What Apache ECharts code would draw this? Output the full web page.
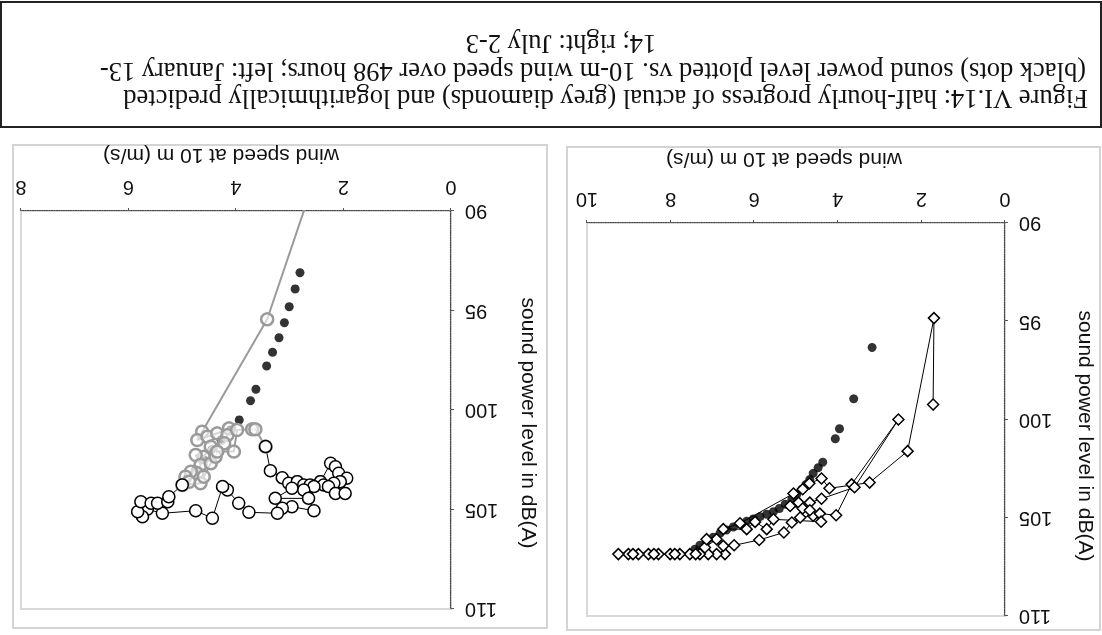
<!DOCTYPE html>
<html>
<head>
<meta charset="utf-8">
<script src="https://cdn.jsdelivr.net/npm/echarts@6/dist/echarts.min.js"></script>
<style>
    html,body{margin:0;padding:0;background:#fff;}
    /* the scanned page is upside down, so the whole figure is turned */
    #wrap{width:1102px;height:635px;transform:rotate(180deg);transform-origin:50% 50%;}
    #fig{width:1102px;height:635px;}
</style>
</head>
<body>
<div id="wrap"><div id="fig"></div></div>
<script>
    // axis ranges
    var windMaxJan = 10, windMaxJul = 8;
    var splMin = 90, splMax = 110;

    // January 13-14: actual half-hourly values [wind m/s, dB(A)] in time order
    var janActual = [
        [6.70,106.85],[6.90,106.85],[7.10,106.85],[7.30,106.85],[7.54,106.85],[7.78,106.85],[8.01,106.85],[8.29,106.85],
        [8.53,106.85],[8.77,106.85],[9.01,106.85],[9.25,106.85],[8.90,106.85],[8.40,106.85],[7.90,106.85],[7.40,106.85],
        [7.18,106.51],[6.90,106.09],[7.14,106.09],[6.74,106.43],[6.48,106.40],[5.88,106.13],[5.29,105.75],[5.10,105.24],
        [4.90,104.99],[4.59,104.90],[4.43,104.79],[4.04,104.87],[3.67,103.30],[2.55,100.00],[3.60,103.45],[4.39,104.03],
        [4.67,104.23],[4.94,104.23],[5.14,104.40],[4.84,104.53],[4.67,104.62],[4.40,105.20],[5.54,105.08],[5.70,105.58],
        [5.98,105.21],[6.18,105.58],[6.74,105.58],[6.34,105.28],[5.06,103.77],[4.84,103.55],[4.68,103.25],[4.39,103.00],
        [4.20,103.50],[3.24,103.21],[2.33,101.61],[1.70,94.84],[1.72,99.24]
    ];
    // January: logarithmically predicted values
    var janPredicted = [
        [3.18,96.33],[3.62,98.95],[3.96,100.47],[4.06,100.98],[4.36,102.17],[4.47,102.45],[4.59,102.74],[4.67,103.05],
        [4.76,103.30],[4.86,103.55],[4.98,103.81],[5.10,104.06],[5.26,104.31],[5.40,104.53],[5.54,104.69],[5.70,104.82],
        [5.86,104.94],[6.02,105.06],[6.18,105.18],[6.34,105.31],[6.50,105.47],[6.66,105.62],[6.82,105.79],[6.98,105.99],
        [7.14,106.19],[7.30,106.40],[7.42,106.60]
    ];
    // July 2-3: actual values, grey part (first point lies below the axis range)
    var julGrey = [
        [2.55,88.5],[3.42,95.44],[4.63,101.09],[4.72,101.51],[4.53,101.34],[4.35,101.17],[4.13,100.92],[4.16,101.26],
        [4.22,101.67],[4.47,101.84],[4.60,102.35],[4.75,102.26],[4.66,102.76],[4.72,103.18],[4.84,103.10],[4.94,103.35],
        [4.87,103.60],[5.00,103.77],[4.66,103.68],[4.60,103.35],[4.47,102.68],[4.38,102.35],[4.35,102.09],[4.04,102.09],
        [3.98,101.00],[3.70,100.97],[3.64,100.97],[3.45,101.84]
    ];
    // July 2-3: actual values, black part
    var julBlack = [
        [3.45,101.84],[3.36,103.05],[3.14,103.40],[3.02,103.68],[2.86,103.60],[2.74,103.77],[2.62,103.77],[2.43,103.60],
        [2.24,102.68],[2.15,102.85],[2.09,103.18],[1.94,103.43],[2.06,103.60],[2.18,103.68],[2.37,103.77],[2.28,103.85],
        [2.15,104.19],[1.97,104.19],[2.55,103.85],[2.74,104.02],[2.96,103.93],[3.27,104.44],[2.65,104.44],[2.55,105.06],
        [2.96,104.86],[3.14,104.94],[3.23,105.19],[3.76,105.14],[3.95,104.69],[4.16,104.02],[4.25,103.85],[4.44,105.44],
        [4.75,105.06],[5.37,105.19],[5.65,104.99],[5.74,105.36],[5.83,105.11],[5.77,104.61],[5.58,104.69],[5.46,104.69],
        [5.27,104.61],[5.25,104.36],[5.00,103.77]
    ];
    // July: logarithmically predicted values
    var julPredicted = [
        [2.81,93.10],[2.90,93.92],[3.01,94.81],[3.10,95.61],[3.20,96.37],[3.32,97.10],[3.43,97.79],[3.63,98.96],
        [3.73,99.53],[3.94,100.50],[4.10,101.00],[4.28,101.50],[4.45,102.00],[4.60,102.50],[4.75,103.00],[4.90,103.40]
    ];

    var xTitle = 'wind speed at 10 m (m/s)';
    var yTitle = 'sound power level in dB(A)';
    var captionLines = [
        'Figure VI.14: half-hourly progress of actual (grey diamonds) and logarithmically predicted',
        '(black dots) sound power level plotted vs. 10-m wind speed over 498 hours; left: January 13-',
        '14; right: July 2-3'
    ];

    var sans = 'Liberation Sans, Arial, sans-serif';
    var serif = 'Liberation Serif, Times New Roman, serif';

    function makeX(idx, max){
        return {
            gridIndex: idx, type: 'value', min: 0, max: max, interval: 2,
            axisLine: {onZero: false, lineStyle: {color: '#444', type: 'dotted', width: 1.2}},
            axisTick: {show: true, length: 3, lineStyle: {color: '#555'}},
            axisLabel: {fontFamily: sans, fontSize: 20, color: '#111', margin: 14},
            splitLine: {show: false}
        };
    }
    function makeY(idx){
        return {
            gridIndex: idx, type: 'value', min: splMin, max: splMax, interval: 5,
            axisLine: {show: true, lineStyle: {color: '#444', type: 'dotted', width: 1.2}},
            axisTick: {show: true, length: 3, lineStyle: {color: '#555'}},
            axisLabel: {fontFamily: sans, fontSize: 20, color: '#111', margin: 14},
            splitLine: {show: false}
        };
    }
    function axisText(x, y, txt, rot){
        return {
            type: 'text', x: x, y: y, rotation: rot || 0,
            style: {text: txt, fontFamily: sans, fontSize: 21, fill: '#111', align: 'center', verticalAlign: 'middle'}
        };
    }
    function frame(x, y, w, h){
        return {type: 'rect', shape: {x: x, y: y, width: w, height: h}, style: {fill: 'none', stroke: '#d4d4d4', lineWidth: 2}, z: -1};
    }
    function captionText(x, y, txt, align){
        return {type: 'text', x: x, y: y, style: {text: txt, fontFamily: serif, fontSize: 26.5, fill: '#111', align: align, verticalAlign: 'middle'}};
    }

    var option = {
        backgroundColor: '#fff',
        animation: false,
        grid: [
            {left: 97, top: 19, width: 418, height: 393, show: true, borderColor: '#d8d8d8', borderWidth: 2},
            {left: 651, top: 26, width: 430, height: 398, show: true, borderColor: '#d8d8d8', borderWidth: 2}
        ],
        xAxis: [makeX(0, windMaxJan), makeX(1, windMaxJul)],
        yAxis: [makeY(0), makeY(1)],
        series: [
            {
                name: 'January actual', type: 'line', xAxisIndex: 0, yAxisIndex: 0, data: janActual,
                symbol: 'diamond', symbolSize: 11, showAllSymbol: true,
                lineStyle: {color: '#000', width: 1},
                itemStyle: {color: '#fff', borderColor: '#000', borderWidth: 1.5}
            },
            {
                name: 'January predicted', type: 'scatter', xAxisIndex: 0, yAxisIndex: 0, data: janPredicted,
                symbolSize: 9, itemStyle: {color: '#000'}
            },
            {
                name: 'July predicted', type: 'scatter', xAxisIndex: 1, yAxisIndex: 1, data: julPredicted,
                symbolSize: 9, itemStyle: {color: '#000'}
            },
            {
                name: 'July actual grey', type: 'line', xAxisIndex: 1, yAxisIndex: 1, data: julGrey, clip: true,
                symbol: 'circle', symbolSize: 12, showAllSymbol: true,
                lineStyle: {color: '#9a9a9a', width: 2},
                itemStyle: {color: 'rgba(255,255,255,0.6)', borderColor: '#9a9a9a', borderWidth: 2.5}
            },
            {
                name: 'July actual black', type: 'line', xAxisIndex: 1, yAxisIndex: 1, data: julBlack,
                symbol: 'circle', symbolSize: 12, showAllSymbol: true,
                lineStyle: {color: '#000', width: 1},
                itemStyle: {color: '#fff', borderColor: '#000', borderWidth: 1.5}
            }
        ],
        graphic: [
            frame(2, 5, 533, 483),
            frame(555, 7, 534, 483),
            axisText(318, 476, xTitle),
            axisText(17, 199, yTitle, Math.PI / 2),
            axisText(881, 480, xTitle),
            axisText(574, 212, yTitle, Math.PI / 2),
            {type: 'rect', shape: {x: 1, y: 508, width: 1100, height: 125}, style: {fill: 'none', stroke: '#222', lineWidth: 2}},
            captionText(14, 538, captionLines[0], 'left'),
            captionText(16, 565, captionLines[1], 'left'),
            captionText(541, 593, captionLines[2], 'center')
        ]
    };

    var myChart = echarts.init(document.getElementById('fig'));
    myChart.setOption(option);
</script>
</body>
</html>
